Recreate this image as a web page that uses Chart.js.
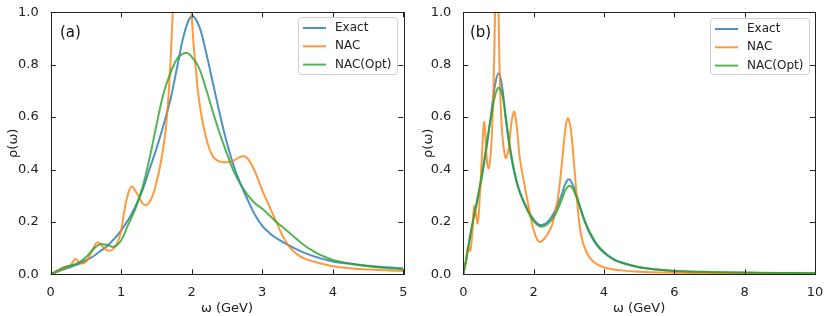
<!DOCTYPE html>
<html>
<head>
<meta charset="utf-8">
<script src="https://cdn.jsdelivr.net/npm/chart.js@4.4.1/dist/chart.umd.min.js"></script>
<style>
  html, body { margin: 0; padding: 0; background: #fff; width: 831px; height: 316px; overflow: hidden; }
  canvas { position: absolute; top: 0; }
  #chartA { left: 0; }
  #chartB { left: 415px; }
</style>
</head>
<body>
<canvas id="chartA" width="415" height="316"></canvas>
<canvas id="chartB" width="416" height="316"></canvas>
<script>
// ---- panel (a) data ----
const wA_exact = [0, 0.1, 0.2, 0.3, 0.4, 0.5, 0.6, 0.7, 0.8, 0.9, 1.0, 1.1, 1.2, 1.3, 1.4, 1.5, 1.6, 1.7, 1.8, 1.9, 2.0,
  2.1, 2.2, 2.3, 2.4, 2.5, 2.6, 2.7, 2.8, 2.9, 3.0, 3.1, 3.2, 3.3, 3.4, 3.6, 3.8, 4.0, 4.25, 4.5, 4.75, 5.0];
const rA_exact = [0, 0.01, 0.02, 0.03, 0.04, 0.053, 0.068, 0.088, 0.108, 0.135, 0.168, 0.208, 0.258, 0.32, 0.4, 0.48, 0.57, 0.67, 0.8, 0.925, 0.985,
  0.95, 0.85, 0.73, 0.61, 0.5, 0.41, 0.34, 0.28, 0.225, 0.185, 0.158, 0.138, 0.122, 0.107, 0.082, 0.063, 0.049, 0.04, 0.033, 0.027, 0.023];

const wA_nac = [0, 0.1, 0.2, 0.28, 0.35, 0.42, 0.5, 0.58, 0.66, 0.74, 0.82, 0.9, 0.98, 1.05, 1.1, 1.15, 1.22, 1.3, 1.36, 1.43, 1.5,
  1.57, 1.63, 1.68, 1.73, 1.79, 1.86, 1.93, 1.98, 2.02, 2.06, 2.1, 2.2, 2.3, 2.4, 2.5, 2.6, 2.72, 2.8, 2.9, 3.0,
  3.1, 3.2, 3.3, 3.4, 3.5, 3.6, 3.8, 4.0, 4.25, 4.5, 4.75, 5.0];
const rA_nac = [0, 0.012, 0.025, 0.035, 0.058, 0.042, 0.048, 0.085, 0.122, 0.105, 0.09, 0.1, 0.145, 0.25, 0.31, 0.335, 0.31, 0.272, 0.265, 0.29, 0.35,
  0.44, 0.55, 0.72, 1.0, 1.5, 1.75, 1.5, 1.1, 0.9, 0.78, 0.67, 0.525, 0.45, 0.43, 0.428, 0.435, 0.451, 0.44, 0.39, 0.32,
  0.26, 0.2, 0.14, 0.1, 0.075, 0.06, 0.043, 0.031, 0.023, 0.018, 0.015, 0.013];

const wA_opt = [0, 0.1, 0.2, 0.3, 0.4, 0.5, 0.6, 0.7, 0.8, 0.9, 1.0, 1.1, 1.2, 1.3, 1.4, 1.5, 1.6, 1.7, 1.8, 1.92, 2.0,
  2.1, 2.2, 2.3, 2.4, 2.5, 2.6, 2.7, 2.8, 2.9, 3.0, 3.1, 3.2, 3.3, 3.4, 3.5, 3.6, 3.7, 3.8, 3.9, 4.0, 4.25, 4.5, 4.75, 5.0];
const rA_opt = [0, 0.015, 0.028, 0.035, 0.045, 0.065, 0.095, 0.115, 0.112, 0.105, 0.13, 0.19, 0.25, 0.33, 0.44, 0.57, 0.69, 0.77, 0.825, 0.846, 0.83,
  0.79, 0.71, 0.62, 0.535, 0.46, 0.39, 0.34, 0.3, 0.27, 0.25, 0.225, 0.2, 0.178, 0.155, 0.132, 0.11, 0.092, 0.077, 0.065, 0.055, 0.04, 0.031, 0.024, 0.019];

// ---- panel (b) data ----
const wB_exact = [0, 0.1, 0.2, 0.3, 0.4, 0.5, 0.6, 0.7, 0.8, 0.9, 1.0, 1.1, 1.2, 1.3, 1.4, 1.5, 1.6, 1.8, 2.0, 2.2, 2.4,
  2.6, 2.8, 2.9, 3.0, 3.1, 3.2, 3.3, 3.4, 3.5, 3.6, 3.8, 4.0, 4.25, 4.5, 5.0, 5.5, 6, 7, 8, 9, 10];
const rB_exact = [0, 0.07, 0.15, 0.22, 0.28, 0.35, 0.43, 0.52, 0.62, 0.72, 0.767, 0.72, 0.6, 0.5, 0.42, 0.36, 0.315, 0.255, 0.21, 0.188, 0.2,
  0.24, 0.305, 0.345, 0.363, 0.345, 0.31, 0.265, 0.22, 0.185, 0.155, 0.11, 0.082, 0.058, 0.044, 0.027, 0.018, 0.013, 0.008, 0.006, 0.005, 0.004];

const wB_nac = [0, 0.08, 0.12, 0.16, 0.2, 0.25, 0.31, 0.36, 0.41, 0.47, 0.53, 0.59, 0.63, 0.68, 0.73, 0.8, 0.86, 0.9, 0.95, 1.0,
  1.04, 1.1, 1.2, 1.28, 1.37, 1.45, 1.53, 1.6, 1.7, 1.8, 1.9, 2.0, 2.15, 2.3, 2.5, 2.6, 2.7, 2.8, 2.9, 2.97, 3.05,
  3.15, 3.25, 3.35, 3.5, 3.7, 4.0, 4.5, 5, 6, 7, 8, 10];
const rB_nac = [0, 0.05, 0.1, 0.1, 0.09, 0.15, 0.26, 0.23, 0.195, 0.3, 0.45, 0.58, 0.53, 0.42, 0.405, 0.5, 0.72, 0.98, 1.3, 1.02,
  0.75, 0.55, 0.445, 0.47, 0.58, 0.62, 0.55, 0.45, 0.37, 0.3, 0.23, 0.17, 0.125, 0.135, 0.18, 0.23, 0.3, 0.42, 0.55, 0.595, 0.56,
  0.42, 0.26, 0.15, 0.085, 0.048, 0.026, 0.015, 0.01, 0.006, 0.004, 0.003, 0.002];

const wB_opt = [0, 0.1, 0.2, 0.3, 0.4, 0.5, 0.6, 0.7, 0.8, 0.9, 1.0, 1.1, 1.2, 1.3, 1.4, 1.5, 1.6, 1.8, 2.0, 2.2, 2.4,
  2.6, 2.8, 2.9, 3.0, 3.1, 3.2, 3.3, 3.4, 3.5, 3.6, 3.8, 4.0, 4.25, 4.5, 5.0, 5.5, 6, 7, 8, 9, 10];
const rB_opt = [0, 0.07, 0.15, 0.22, 0.29, 0.36, 0.44, 0.53, 0.61, 0.68, 0.712, 0.69, 0.61, 0.51, 0.43, 0.365, 0.318, 0.25, 0.203, 0.182, 0.192,
  0.225, 0.285, 0.32, 0.337, 0.33, 0.3, 0.265, 0.225, 0.19, 0.16, 0.115, 0.085, 0.06, 0.045, 0.027, 0.018, 0.013, 0.009, 0.007, 0.005, 0.004];

const labels = ['Exact', 'NAC', 'NAC(Opt)'];
const colors = ['rgba(31,119,180,0.8)', 'rgba(255,127,14,0.8)', 'rgba(44,160,44,0.8)'];

const FONT = "'DejaVu Sans', sans-serif";
const INK = '#222';
const TICK = 5;

function pts(xs, ys) {
  return xs.map((x, i) => ({ x: x, y: ys[i] }));
}

// frame + inward ticks on all four sides
const frameTicks = {
  id: 'frameTicks',
  afterDatasetsDraw(chart) {
    const { ctx, chartArea: a, scales } = chart;
    ctx.save();
    ctx.strokeStyle = INK;
    ctx.lineWidth = 1;
    ctx.beginPath();
    scales.x.ticks.forEach(t => {
      const px = Math.round(scales.x.getPixelForValue(t.value)) + 0.5;
      ctx.moveTo(px, a.bottom); ctx.lineTo(px, a.bottom - TICK);
      ctx.moveTo(px, a.top); ctx.lineTo(px, a.top + TICK);
    });
    scales.y.ticks.forEach(t => {
      const py = Math.round(scales.y.getPixelForValue(t.value)) + 0.5;
      ctx.moveTo(a.left, py); ctx.lineTo(a.left + TICK, py);
      ctx.moveTo(a.right, py); ctx.lineTo(a.right - TICK, py);
    });
    ctx.stroke();
    ctx.strokeRect(Math.round(a.left) + 0.5, Math.round(a.top) + 0.5,
      Math.round(a.right - a.left), Math.round(a.bottom - a.top));
    ctx.restore();
  }
};

// matplotlib-style legend inside the axes + panel tag
const insetLegend = {
  id: 'insetLegend',
  afterDraw(chart, args, opts) {
    const ctx = chart.ctx;
    ctx.save();
    ctx.beginPath();
    if (ctx.roundRect) ctx.roundRect(opts.x + 0.5, opts.y + 0.5, opts.w, opts.h, 3);
    else ctx.rect(opts.x + 0.5, opts.y + 0.5, opts.w, opts.h);
    ctx.fillStyle = 'rgba(255,255,255,0.8)';
    ctx.fill();
    ctx.strokeStyle = '#d0d0d0';
    ctx.lineWidth = 1;
    ctx.stroke();
    ctx.font = '12px ' + FONT;
    ctx.textBaseline = 'middle';
    chart.data.datasets.forEach((ds, i) => {
      const yy = opts.y + 11 + i * 18.3;
      ctx.strokeStyle = ds.borderColor;
      ctx.lineWidth = 2;
      ctx.beginPath();
      ctx.moveTo(opts.x + 5, yy);
      ctx.lineTo(opts.x + 28, yy);
      ctx.stroke();
      ctx.fillStyle = INK;
      ctx.fillText(ds.label, opts.x + 37, yy);
    });
    ctx.font = '15px ' + FONT;
    ctx.fillStyle = '#111';
    ctx.fillText(opts.tag, opts.tagX, opts.tagY);
    ctx.restore();
  }
};

function makeChart(id, series, xMax, xStep, pad, yWidth, legendBox) {
  return new Chart(document.getElementById(id), {
    type: 'line',
    data: {
      datasets: series.map((s, i) => ({
        label: labels[i],
        data: pts(s[0], s[1]),
        borderColor: colors[i],
        backgroundColor: colors[i],
        borderWidth: 2,
        pointRadius: 0,
        tension: 0.4,
        order: 3 - i
      }))
    },
    options: {
      responsive: false,
      animation: false,
      events: [],
      layout: { padding: pad },
      plugins: { legend: { display: false }, tooltip: { enabled: false }, insetLegend: legendBox },
      scales: {
        x: {
          type: 'linear', min: 0, max: xMax,
          grid: { display: false }, border: { display: false },
          ticks: { stepSize: xStep, padding: 3, color: INK, font: { family: FONT, size: 13 } },
          title: { display: true, text: 'ω (GeV)', color: INK, font: { family: FONT, size: 13 }, padding: { top: 9, bottom: 0 } },
          afterFit: s => { s.height = 41.7; }
        },
        y: {
          type: 'linear', min: 0, max: 1,
          grid: { display: false }, border: { display: false },
          ticks: { stepSize: 0.2, padding: 4, color: INK, font: { family: FONT, size: 13 },
            callback: v => v.toFixed(1) },
          title: { display: true, text: 'ρ(ω)', color: INK, font: { family: FONT, size: 13 }, padding: { top: 6, bottom: 0 } },
          afterFit: s => { s.width = yWidth; }
        }
      }
    },
    plugins: [frameTicks, insetLegend]
  });
}

makeChart('chartA',
  [[wA_exact, rA_exact], [wA_nac, rA_nac], [wA_opt, rA_opt]],
  5, 1, { left: 0, right: 11.7, top: 12.3, bottom: 0 }, 50.7,
  { x: 298, y: 17, w: 99, h: 57, tag: '(a)', tagX: 60, tagY: 33 });

makeChart('chartB',
  [[wB_exact, rB_exact], [wB_nac, rB_nac], [wB_opt, rB_opt]],
  10, 2, { left: 0, right: 16, top: 12.3, bottom: 0 }, 48.3,
  { x: 295, y: 18, w: 99, h: 56, tag: '(b)', tagX: 55, tagY: 33 });
</script>
</body>
</html>
